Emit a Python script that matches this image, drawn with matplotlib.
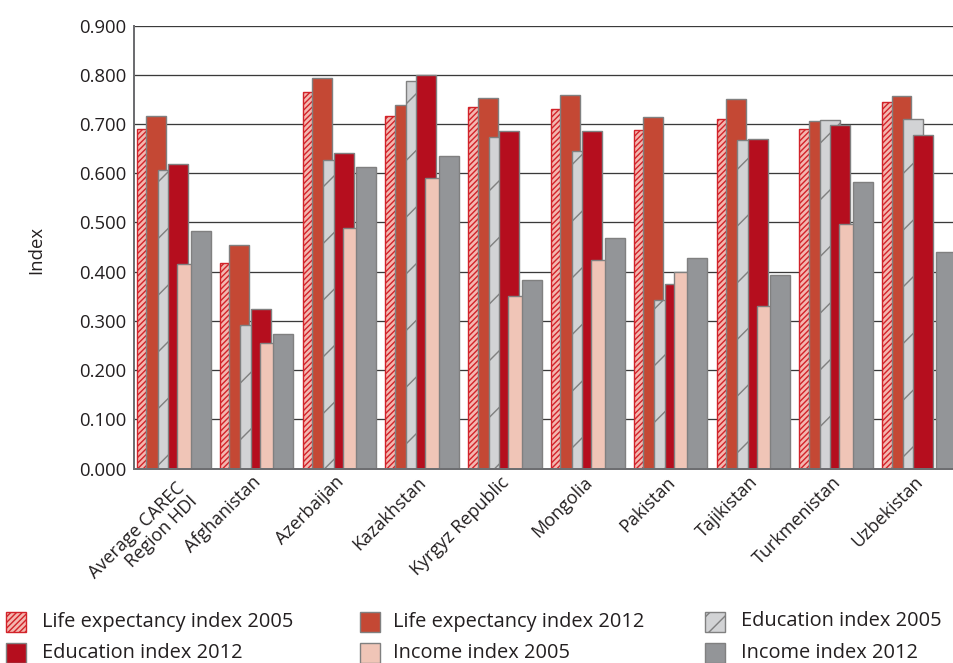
import numpy as np
import matplotlib
matplotlib.use("Agg")
import matplotlib.pyplot as plt
from matplotlib.patches import Rectangle

# chart values
categories = ["Average CAREC\nRegion HDI", "Afghanistan", "Azerbaijan", "Kazakhstan",
              "Kyrgyz Republic", "Mongolia", "Pakistan", "Tajikistan",
              "Turkmenistan", "Uzbekistan"]
life_2005 = [0.690, 0.418, 0.765, 0.716, 0.735, 0.730, 0.688, 0.711, 0.690, 0.745]
life_2012 = [0.717, 0.454, 0.794, 0.739, 0.754, 0.760, 0.714, 0.751, 0.706, 0.758]
edu_2005 = [0.607, 0.291, 0.628, 0.788, 0.673, 0.645, 0.342, 0.667, 0.708, 0.711]
edu_2012 = [0.619, 0.325, 0.642, 0.800, 0.686, 0.686, 0.374, 0.670, 0.699, 0.678]
inc_2005 = [0.415, 0.255, 0.489, 0.590, 0.351, 0.423, 0.399, 0.330, 0.497, np.nan]
inc_2012 = [0.482, 0.274, 0.612, 0.636, 0.384, 0.469, 0.427, 0.393, 0.583, 0.440]
y_ticks = [0.0, 0.1, 0.2, 0.3, 0.4, 0.5, 0.6, 0.7, 0.8, 0.9]

# high dpi so the hatch spacing comes out like the original
DPI = 170
W, H = 954, 663


def pt(px):
    return px * 72.0 / DPI


plt.rcParams["font.family"] = ["Open Sans", "DejaVu Sans"]
plt.rcParams["hatch.linewidth"] = 0.6

GREY_EDGE = "#808080"
TXT = "#231f20"

series = [
    ("Life expectancy index 2005", life_2005, dict(facecolor="#f4b7b0", edgecolor="#d2232a", hatch="/" * 10)),
    ("Life expectancy index 2012", life_2012, dict(facecolor="#c44834", edgecolor=GREY_EDGE)),
    ("Education index 2005", edu_2005, dict(facecolor="#d2d3d5", edgecolor=GREY_EDGE, hatch="/")),
    ("Education index 2012", edu_2012, dict(facecolor="#b50e1e", edgecolor=GREY_EDGE)),
    ("Income index 2005", inc_2005, dict(facecolor="#f0c5b7", edgecolor=GREY_EDGE)),
    ("Income index 2012", inc_2012, dict(facecolor="#939598", edgecolor=GREY_EDGE)),
]

fig = plt.figure(figsize=(W / DPI, H / DPI), dpi=DPI)
ax_left, ax_right, ax_top, ax_bot = 134, 954, 25.7, 468.5
ax = fig.add_axes([ax_left / W, (H - ax_bot) / H, (ax_right - ax_left) / W, (ax_bot - ax_top) / H])

cat_px = 82.8
offsets_px = [0, 9.3, 20.5, 31, 40, 53.5]
start_px = -38.4
bar_w = 20 / cat_px
x = np.arange(len(categories))

for (label, vals, style), off in zip(series, offsets_px):
    ax.bar(x + (start_px + off) / cat_px, vals, width=bar_w, align="edge",
           linewidth=pt(1.4), label=label, **style)

ax.set_xlim(-0.5, -0.5 + (ax_right - ax_left) / cat_px)
ax.set_ylim(0, 0.9)
ax.set_yticks(y_ticks)
ax.set_yticklabels([f"{v:.3f}" for v in y_ticks])
ax.yaxis.grid(True, color="#3a3a3a", linewidth=pt(1.3))
ax.set_axisbelow(True)

ax.set_xticks(x)
ax.set_xticklabels(categories, rotation=45, ha="right", va="center",
                   rotation_mode="anchor", multialignment="right", linespacing=1.0)
# the two-line label hangs below the tick like in the original
ax.get_xticklabels()[0].set_verticalalignment("top")
ax.tick_params(axis="x", length=0, pad=pt(11), labelsize=pt(18), labelcolor=TXT)
ax.tick_params(axis="y", length=0, pad=pt(8), labelsize=pt(18.5), labelcolor=TXT)

for s in ["top", "right"]:
    ax.spines[s].set_visible(False)
for s in ["left", "bottom"]:
    ax.spines[s].set_color("#6d6e71")
    ax.spines[s].set_linewidth(pt(2))

fig.text(36 / W, 1 - 250 / H, "Index", rotation=90, ha="center", va="center",
         fontsize=pt(18.5), color=TXT)

# legend: three columns, two rows
col_patch_x = [6, 360, 705]
col_text_x = [42, 393, 741]
row_y = [621.5, 653]
for i, (label, vals, style) in enumerate(series):
    row, col = divmod(i, 3)
    px, py = col_patch_x[col], row_y[row]
    pstyle = dict(style)
    if pstyle.get("hatch") == "/":
        pstyle["hatch"] = "///"
    fig.patches.append(Rectangle((px / W, 1 - (py + 10) / H), 20 / W, 20 / H,
                                 transform=fig.transFigure, linewidth=pt(1.4), **pstyle))
    fig.text(col_text_x[col] / W, 1 - py / H, label, ha="left", va="center",
             fontsize=pt(20), color=TXT)

fig.savefig("out.png", dpi=DPI)
